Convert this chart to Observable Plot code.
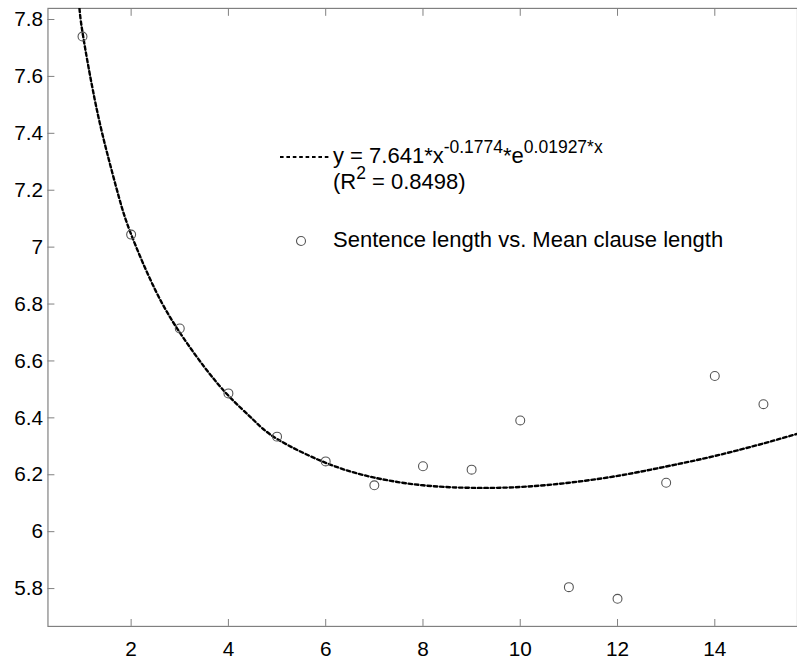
<!DOCTYPE html>
<html><head><meta charset="utf-8">
<script src="https://cdn.jsdelivr.net/npm/d3@7"></script>
<script src="https://cdn.jsdelivr.net/npm/@observablehq/plot@0.6"></script>
<style>
html,body{margin:0;padding:0;background:#fff;overflow:hidden;}
#wrap{position:relative;width:797px;height:661px;overflow:hidden;font-family:"Liberation Sans",Arial,sans-serif;background:#fff;}
#wrap > svg{position:absolute;left:0;top:0;}
.leg{position:absolute;font-size:22px;line-height:22px;color:#000;white-space:nowrap;}
.leg sup{font-size:17.5px;position:relative;top:-10px;vertical-align:baseline;line-height:0;}
.glyph{position:absolute;overflow:visible;}
</style></head><body><div id="wrap"></div>
<script>
// Observed data: sentence length (x) vs. mean clause length (y)
const sentenceLength = [1, 2, 3, 4, 5, 6, 7, 8, 9, 10, 11, 12, 13, 14, 15];
const meanClauseLength = [7.740, 7.044, 6.714, 6.486, 6.334, 6.247, 6.163, 6.230, 6.218, 6.391, 5.805, 5.764, 6.172, 6.547, 6.448];

// Fitted curve
const fitX = [0.93, 1.0, 1.25, 1.5, 1.75, 2, 2.5, 3, 3.5, 4, 4.5, 5, 6, 7, 8, 9, 10, 11, 12, 13, 14, 15, 15.7];
const fitY = [7.86, 7.755, 7.52, 7.335, 7.175, 7.045, 6.848, 6.70, 6.58, 6.478, 6.395, 6.326, 6.242, 6.19, 6.163, 6.154, 6.157, 6.172, 6.196, 6.229, 6.266, 6.31, 6.344];

const xTicks = [2, 4, 6, 8, 10, 12, 14];
const yTicks = [5.8, 6, 6.2, 6.4, 6.6, 6.8, 7, 7.2, 7.4, 7.6, 7.8];

const legendFitLine1 = 'y = 7.641*x<sup>-0.1774</sup>*e<sup>0.01927*x</sup>';
const legendFitLine2 = '(R<sup>2</sup> = 0.8498)';
const legendPoints = 'Sentence length vs. Mean clause length';

const points = sentenceLength.map((x, i) => ({x, y: meanClauseLength[i]}));
const fit = fitX.map((x, i) => ({x, y: fitY[i]}));

const font = '"Liberation Sans", Arial, sans-serif';
const fmt = d => String(d);
const dash = "3.6 2.8";

const chart = Plot.plot({
  width: 806,
  height: 661,
  marginLeft: 48,
  marginRight: 0,
  marginTop: 8,
  marginBottom: 28,
  style: {fontFamily: font, fontSize: "21px", color: "#000", background: "#fff", overflow: "visible"},
  x: {domain: [0.29, 15.7]},
  y: {domain: [5.667, 7.839]},
  marks: [
    Plot.frame({stroke: "#808080", strokeWidth: 1.2}),
    Plot.axisX({ticks: xTicks, tickFormat: fmt, tickSize: -7, tickPadding: 22, stroke: "#808080", fill: "#000", label: null}),
    Plot.axisX({anchor: "top", ticks: xTicks, tickFormat: () => "", tickSize: -7, stroke: "#808080", label: null}),
    Plot.axisY({ticks: yTicks, tickFormat: fmt, tickSize: -7, tickPadding: 12, stroke: "#808080", fill: "#000", label: null}),
    Plot.line(fit, {x: "x", y: "y", curve: "natural", stroke: "#000", strokeWidth: 2.4, strokeDasharray: dash, clip: true}),
    Plot.dot(points, {x: "x", y: "y", r: 4.5, stroke: "#555", strokeWidth: 1.1, fill: "none"})
  ]
});

const wrap = document.getElementById("wrap");
wrap.appendChild(chart);

function addDiv(html, left, top) {
  const d = document.createElement("div");
  d.className = "leg";
  d.style.left = left + "px";
  d.style.top = top + "px";
  d.innerHTML = html;
  wrap.appendChild(d);
}
const ns = "http://www.w3.org/2000/svg";
function addGlyph(inner, left, top, w, h) {
  const s = document.createElementNS(ns, "svg");
  s.setAttribute("class", "glyph");
  s.setAttribute("width", w);
  s.setAttribute("height", h);
  s.style.left = left + "px";
  s.style.top = top + "px";
  s.innerHTML = inner;
  wrap.appendChild(s);
}
addGlyph(`<line x1="0" y1="2" x2="50" y2="2" stroke="#000" stroke-width="2.2" stroke-dasharray="${dash}"/>`, 280, 155, 50, 4);
addDiv(legendFitLine1, 333, 145);
addDiv(legendFitLine2, 333, 171);
addGlyph('<circle cx="6" cy="6" r="4.5" fill="none" stroke="#555" stroke-width="1.1"/>', 295, 235, 12, 12);
addDiv(legendPoints, 333, 229);
</script>
</body></html>
